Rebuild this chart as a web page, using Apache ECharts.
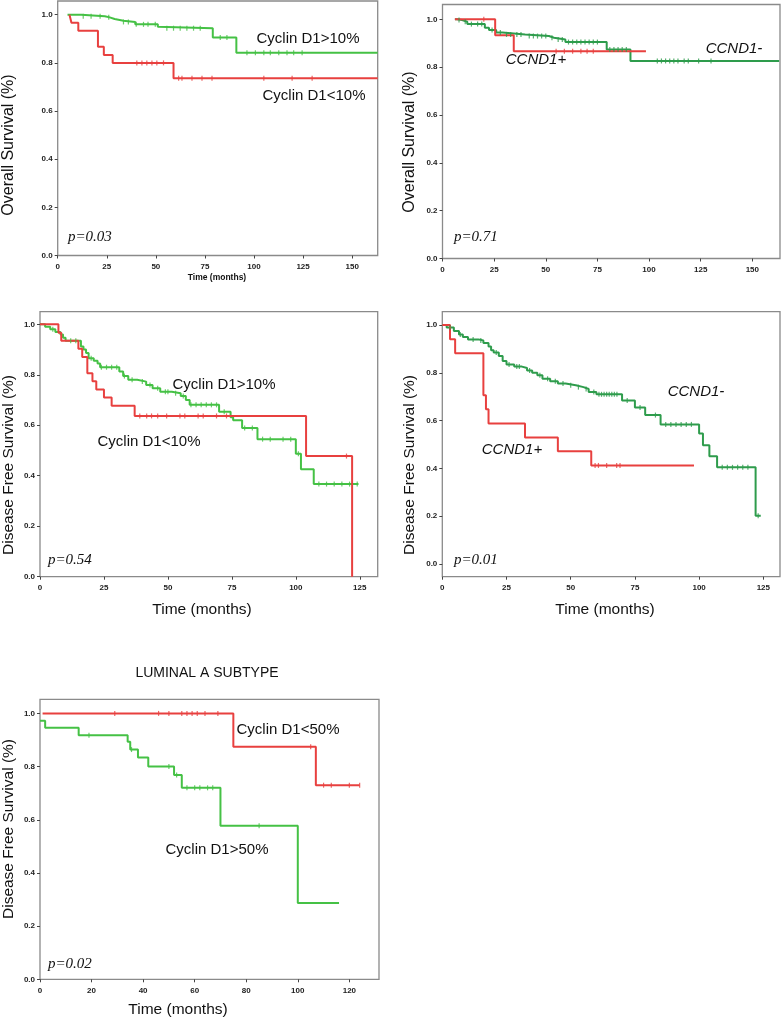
<!DOCTYPE html>
<html>
<head>
<meta charset="utf-8">
<script src="https://cdn.jsdelivr.net/npm/echarts@6/dist/echarts.min.js"></script>
<style>
  html, body { margin: 0; padding: 0; background: #fff; }
  #main { width: 781px; height: 1020px; }
</style>
</head>
<body>
<div id="main"></div>
<script>
// 坐标轴刻度
var yTicks = [0, 0.2, 0.4, 0.6, 0.8, 1.0];
var xTicksA = [0, 25, 50, 75, 100, 125, 150];
var xTicksB = [0, 25, 50, 75, 100, 125];
var xTicksC = [0, 20, 40, 60, 80, 100, 120];

// panel 1 : overall survival, Cyclin D1 (IHC)
var os1High = [[5, 1.0], [12, 0.994], [24, 0.989], [26.5, 0.982], [29, 0.975], [33.5, 0.970], [39.5, 0.960], [51, 0.950], [52, 0.944], [79, 0.905], [91, 0.842], [163, 0.842]];
var os1HighCens = [13, 17, 21.6, 26, 33.5, 36, 40, 43.7, 46, 49.7, 55.6, 59, 62.4, 65.8, 69.2, 72.6, 82.8, 86.2, 96.4, 100.7, 105, 108.3, 112.6, 116.8, 120.2, 124.5];
var os1Low = [[6, 1.0], [7, 0.967], [10.5, 0.933], [20.5, 0.867], [23.5, 0.833], [28, 0.800], [59, 0.736], [163, 0.736]];
var os1LowCens = [40.3, 42.9, 45.4, 48, 50.5, 53.9, 61.6, 63.3, 68.4, 73.5, 78.6, 105, 119.4, 129.6];

// panel 2 : overall survival, CCND1 amplification
var os2Pos = [[6, 1.0], [25.5, 0.933], [34.5, 0.867], [98.5, 0.867]];
var os2PosCens = [20, 55, 59, 63, 67, 70, 73];
var os2Neg = [[6, 1.0], [7, 0.997], [9.5, 0.99], [12, 0.98], [20.5, 0.965], [22.5, 0.955], [26, 0.945], [29, 0.937], [40, 0.93], [51.5, 0.923], [54, 0.916], [59.5, 0.905], [79.5, 0.874], [91, 0.826], [163, 0.826]];
var os2NegCens = [8, 11, 14, 17, 19, 24, 28, 31, 33, 36, 38, 42, 44, 46, 48, 50, 53, 56, 58, 61, 63, 65, 67, 69, 71, 73, 75, 81, 83, 85, 87, 89, 104, 106, 108, 110, 112, 114, 117, 119, 124, 130];

// panel 3 : disease free survival, Cyclin D1 (IHC)
var dfs3High = [[0, 1.0], [2, 0.99], [4, 0.98], [6, 0.97], [8, 0.96], [9, 0.947], [10, 0.935], [16, 0.912], [17, 0.9], [18, 0.886], [19, 0.866], [21, 0.856], [22.5, 0.845], [23.5, 0.83], [31, 0.813], [32.5, 0.795], [34.5, 0.78], [38, 0.773], [41.5, 0.76], [44, 0.747], [47, 0.733], [51.5, 0.727], [55, 0.716], [57, 0.70], [58.5, 0.681], [70, 0.654], [74.5, 0.632], [75.5, 0.62], [79, 0.589], [85, 0.545], [100, 0.487], [102, 0.426], [107, 0.367], [124.5, 0.367]];
var dfs3HighCens = [5, 12, 14, 20, 24, 26, 28, 30, 33, 36, 40, 43, 46, 49, 50, 53, 56, 59, 61, 63, 65, 67, 69, 72, 80, 83, 87, 90, 95, 98, 101, 109, 112, 115, 118, 121, 124];
var dfs3Low = [[0, 1.0], [7.2, 0.967], [8.3, 0.935], [15, 0.903], [16.5, 0.871], [18.5, 0.806], [20.5, 0.774], [22, 0.742], [25, 0.71], [28, 0.677], [37, 0.637], [104, 0.478], [122, 0.0]];
var dfs3LowCens = [39, 41.7, 43.6, 46, 49.5, 54.7, 56.6, 61.8, 63.8, 69, 72.9, 119.8];

// panel 4 : disease free survival, CCND1 amplification
var dfs4Pos = [[0, 1.0], [3, 0.941], [5, 0.882], [16, 0.706], [17, 0.647], [18, 0.588], [32.2, 0.529], [45, 0.471], [58, 0.412], [98, 0.412]];
var dfs4PosCens = [59.5, 60.8, 64, 67.9, 69.2];
var dfs4Neg = [[0, 1.0], [1.7, 0.99], [4.5, 0.975], [6.5, 0.96], [8, 0.95], [10, 0.94], [14, 0.935], [16, 0.925], [18, 0.91], [19, 0.895], [20, 0.885], [22, 0.87], [23.5, 0.85], [25, 0.835], [28, 0.826], [31, 0.82], [33, 0.81], [35, 0.80], [37, 0.79], [39, 0.775], [42, 0.765], [45, 0.755], [48, 0.748], [52, 0.74], [55, 0.732], [57, 0.72], [60, 0.71], [70, 0.684], [75, 0.655], [79, 0.623], [85, 0.584], [100, 0.546], [101.5, 0.497], [104, 0.451], [107, 0.404], [122, 0.201], [124, 0.201]];
var dfs4NegCens = [3, 7, 12, 15, 21, 26, 29, 30, 34, 38, 41, 44, 47, 50, 53, 56, 59, 61, 62, 63, 64, 65, 66, 67, 68, 72, 77, 83, 87, 89, 91, 93, 95, 97, 109, 111, 113, 115, 117, 119, 123];

// panel 5 : luminal A, disease free survival
var dfs5Low = [[1, 1.0], [75, 0.875], [107, 0.73], [124, 0.73]];
var dfs5LowCens = [29, 46, 50, 55, 57, 59, 61, 64, 69, 105, 110, 113, 120, 124];
var dfs5High = [[0, 0.972], [2, 0.946], [15, 0.918], [34, 0.893], [35, 0.864], [38, 0.834], [42, 0.80], [52, 0.768], [55, 0.72], [70, 0.577], [100, 0.287], [116, 0.287]];
var dfs5HighCens = [19, 35.5, 50, 53, 57, 60, 62, 65, 67, 85];

var RED = '#e8403f';
var GREEN = '#45c145';
var DKGREEN = '#2e9c4c';

// 删失点的纵坐标取自曲线
function survAt(curve, t) {
    var s = curve[0][1];
    for (var i = 0; i < curve.length; i++) {
        if (curve[i][0] <= t) s = curve[i][1];
    }
    return s;
}

function kmSeries(idx, curve, cens, color) {
    return [
        {
            type: 'line',
            xAxisIndex: idx,
            yAxisIndex: idx,
            step: 'end',
            symbol: 'none',
            lineStyle: { color: color, width: 2 },
            data: curve,
            z: 3
        },
        {
            type: 'scatter',
            xAxisIndex: idx,
            yAxisIndex: idx,
            symbol: 'rect',
            symbolSize: [1.2, 5],
            itemStyle: { color: color },
            data: cens.map(function (t) { return [t, survAt(curve, t)]; }),
            z: 4
        }
    ];
}

function xAxis(idx, max, ticks) {
    return {
        type: 'value',
        gridIndex: idx,
        min: 0,
        max: max,
        axisLine: { show: false, onZero: false },
        splitLine: { show: false },
        axisTick: { customValues: ticks, length: 3, lineStyle: { color: '#444' } },
        axisLabel: { customValues: ticks, margin: 7, fontSize: 8, fontWeight: 'bold', color: '#222', fontFamily: 'Liberation Sans' }
    };
}

function yAxis(idx, min, max) {
    return {
        type: 'value',
        gridIndex: idx,
        min: min,
        max: max,
        axisLine: { show: false, onZero: false },
        splitLine: { show: false },
        axisTick: { customValues: yTicks, length: 3, lineStyle: { color: '#444' } },
        axisLabel: {
            customValues: yTicks, margin: 5, fontSize: 8, fontWeight: 'bold', color: '#222', fontFamily: 'Liberation Sans',
            formatter: function (v) { return v.toFixed(1); }
        }
    };
}

function txt(x, y, s, size, opts) {
    opts = opts || {};
    return {
        type: 'text',
        x: x,
        y: y,
        rotation: opts.rot || 0,
        style: {
            text: s,
            fill: '#111',
            font: (opts.style || '') + ' ' + (opts.weight || 'normal') + ' ' + size + 'px ' + (opts.family || '"Liberation Sans", Arial'),
            align: opts.align || 'center',
            verticalAlign: 'middle'
        },
        z: 10
    };
}

var gridStyle = { show: true, borderColor: '#8a8a8a', borderWidth: 1.3, backgroundColor: 'transparent' };

function ChartAll() {
    var myChart = echarts.init(document.getElementById('main'), null, { renderer: 'canvas' });
    var R = Math.PI / 2;
    var option = {
        backgroundColor: '#fff',
        animation: false,
        grid: [
            Object.assign({ left: 57.7, top: 1, width: 320, height: 254.5 }, gridStyle),
            Object.assign({ left: 442.5, top: 4.5, width: 337.5, height: 254 }, gridStyle),
            Object.assign({ left: 40, top: 311.7, width: 337.7, height: 265 }, gridStyle),
            Object.assign({ left: 442.3, top: 311.7, width: 337.7, height: 265 }, gridStyle),
            Object.assign({ left: 40, top: 699.3, width: 339, height: 280 }, gridStyle)
        ],
        xAxis: [
            xAxis(0, 163, xTicksA),
            xAxis(1, 163.4, xTicksA),
            xAxis(2, 132, xTicksB),
            xAxis(3, 131.5, xTicksB),
            xAxis(4, 131.5, xTicksC)
        ],
        yAxis: [
            yAxis(0, 0, 1.057),
            yAxis(1, 0, 1.062),
            yAxis(2, 0, 1.05),
            yAxis(3, -0.054, 1.056),
            yAxis(4, 0, 1.053)
        ],
        series: [].concat(
            kmSeries(0, os1High, os1HighCens, GREEN),
            kmSeries(0, os1Low, os1LowCens, RED),
            kmSeries(1, os2Neg, os2NegCens, DKGREEN),
            kmSeries(1, os2Pos, os2PosCens, RED),
            kmSeries(2, dfs3High, dfs3HighCens, GREEN),
            kmSeries(2, dfs3Low, dfs3LowCens, RED),
            kmSeries(3, dfs4Neg, dfs4NegCens, DKGREEN),
            kmSeries(3, dfs4Pos, dfs4PosCens, RED),
            kmSeries(4, dfs5Low, dfs5LowCens, RED),
            kmSeries(4, dfs5High, dfs5HighCens, GREEN)
        ),
        graphic: [
            // panel 1
            txt(8.5, 145, 'Overall Survival (%)', 16, { rot: R }),
            txt(217, 278, 'Time (months)', 8.5, { weight: 'bold' }),
            txt(308, 39, 'Cyclin D1>10%', 15),
            txt(314, 96, 'Cyclin D1<10%', 15),
            txt(68, 237, 'p=0.03', 15, { align: 'left', style: 'italic', family: '"Liberation Serif", "Times New Roman"' }),
            // panel 2
            txt(410, 142, 'Overall Survival (%)', 16, { rot: R }),
            txt(734, 49, 'CCND1-', 15, { style: 'italic' }),
            txt(536, 60, 'CCND1+', 15, { style: 'italic' }),
            txt(454, 237, 'p=0.71', 15, { align: 'left', style: 'italic', family: '"Liberation Serif", "Times New Roman"' }),
            // panel 3
            txt(8.5, 465, 'Disease Free Survival (%)', 15.5, { rot: R }),
            txt(202, 610, 'Time (months)', 15.5),
            txt(224, 385, 'Cyclin D1>10%', 15),
            txt(149, 442, 'Cyclin D1<10%', 15),
            txt(48, 560, 'p=0.54', 15, { align: 'left', style: 'italic', family: '"Liberation Serif", "Times New Roman"' }),
            // panel 4
            txt(410, 465, 'Disease Free Survival (%)', 15.5, { rot: R }),
            txt(605, 610, 'Time (months)', 15.5),
            txt(696, 392, 'CCND1-', 15, { style: 'italic' }),
            txt(512, 450, 'CCND1+', 15, { style: 'italic' }),
            txt(454, 560, 'p=0.01', 15, { align: 'left', style: 'italic', family: '"Liberation Serif", "Times New Roman"' }),
            // panel 5
            txt(207, 673, 'LUMINAL A SUBTYPE', 14),
            txt(8.5, 829, 'Disease Free Survival (%)', 15.5, { rot: R }),
            txt(178, 1010, 'Time (months)', 15.5),
            txt(288, 730, 'Cyclin D1<50%', 15),
            txt(217, 850, 'Cyclin D1>50%', 15),
            txt(48, 964, 'p=0.02', 15, { align: 'left', style: 'italic', family: '"Liberation Serif", "Times New Roman"' })
        ]
    };
    myChart.setOption(option, true);
    return myChart;
}

window.onload = function () {
    var chart = ChartAll();
    window.onresize = function () {
        chart.resize();
    };
};
</script>
</body>
</html>
